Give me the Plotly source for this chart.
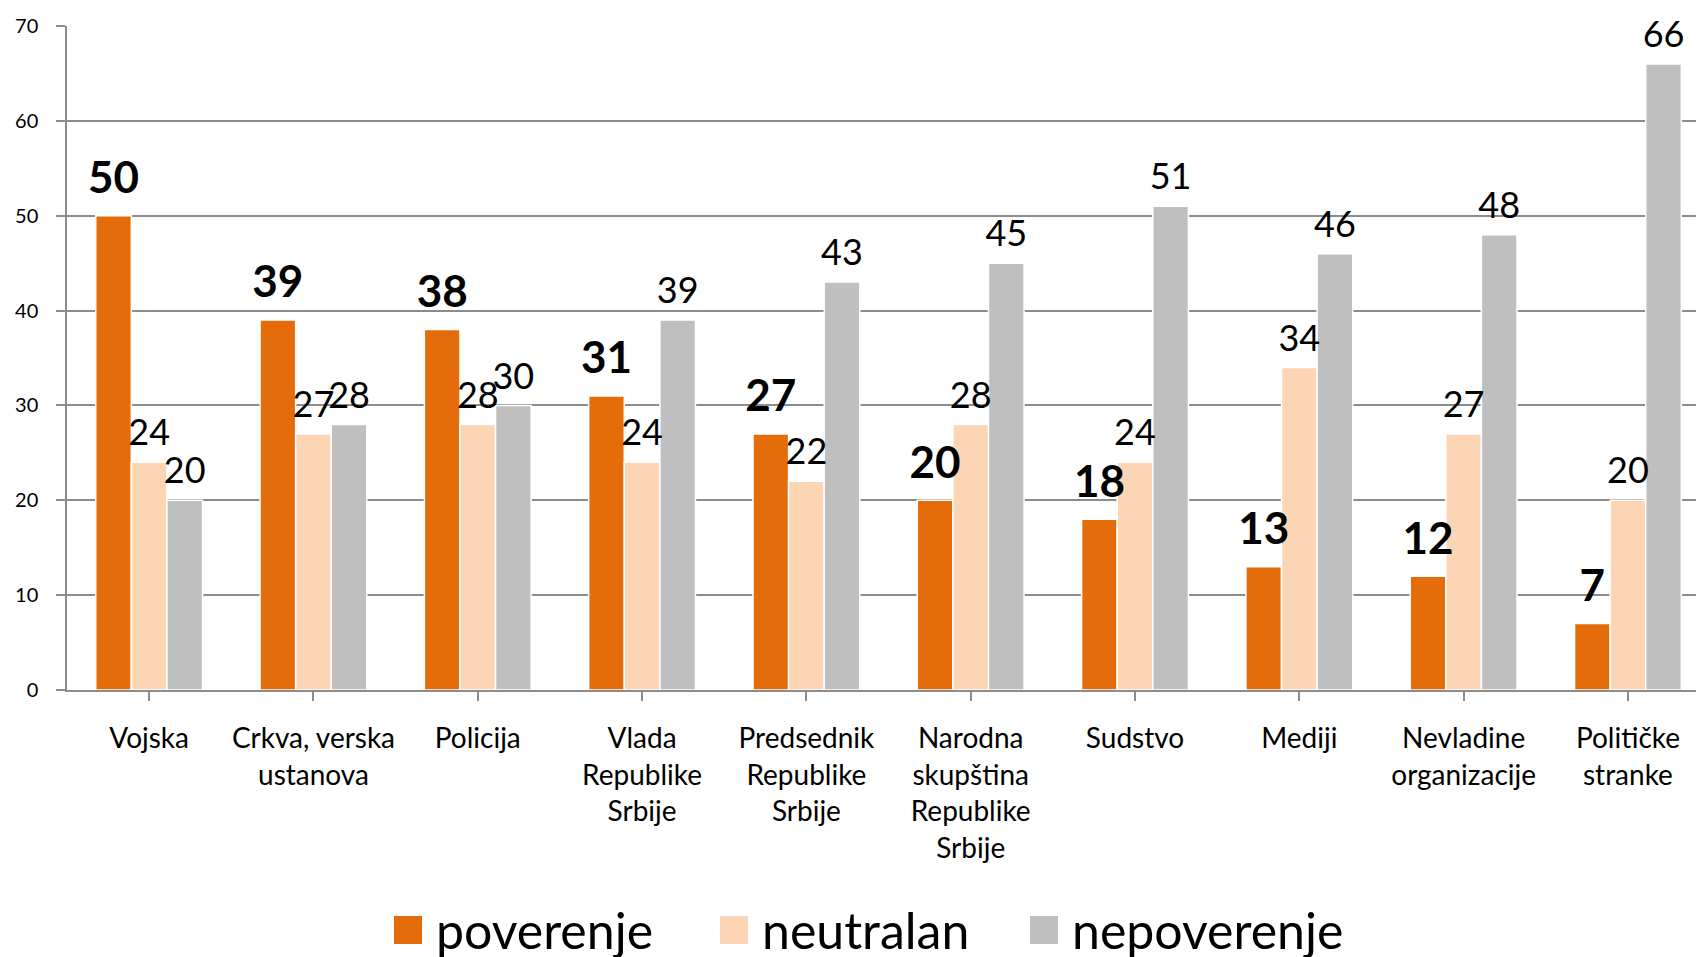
import plotly.graph_objects as go

categories = ["Vojska", "Crkva, verska<br>ustanova", "Policija", "Vlada<br>Republike<br>Srbije",
              "Predsednik<br>Republike<br>Srbije", "Narodna<br>skupština<br>Republike<br>Srbije",
              "Sudstvo", "Mediji", "Nevladine<br>organizacije", "Političke<br>stranke"]
series_names = ["poverenje", "neutralan", "nepoverenje"]
poverenje = [50, 39, 38, 31, 27, 20, 18, 13, 12, 7]
neutralan = [24, 27, 28, 24, 22, 28, 24, 34, 27, 20]
nepoverenje = [20, 28, 30, 39, 43, 45, 51, 46, 48, 66]
y_ticks = [0, 10, 20, 30, 40, 50, 60, 70]

colors = ["#E46C0A", "#FCD5B5", "#BFBFBF"]
FONT = "Lato"
xs = list(range(len(categories)))

fig = go.Figure()
for name, vals, col in zip(series_names, [poverenje, neutralan, nepoverenje], colors):
    fig.add_trace(go.Bar(
        x=xs, y=vals, name=name, offsetgroup=name,
        marker=dict(color=col, line=dict(color="white", width=1.5)),
        showlegend=False, hoverinfo="skip",
    ))
# value labels (grouped scatter so they sit over each bar)
for name, vals in zip(series_names, [poverenje, neutralan, nepoverenje]):
    bold = name == "poverenje"
    fig.add_trace(go.Scatter(
        x=xs, y=vals, mode="markers+text", offsetgroup=name, text=[str(v) for v in vals],
        textposition="top center", cliponaxis=False, showlegend=False, hoverinfo="skip",
        marker=dict(size=17 if bold else 11, opacity=0),
        textfont=dict(family=FONT, size=44 if bold else 36, color="black",
                      weight="bold" if bold else "normal"),
    ))

# legend drawn manually (large squares)
leg_x = [394, 720, 1030]
px_l, px_w, py_t, py_h = 67, 1637, 26, 664
shapes, annotations = [], []
for name, col, lx in zip(series_names, colors, leg_x):
    x0 = (lx - px_l) / px_w
    x1 = (lx + 28 - px_l) / px_w
    yc = (py_t + py_h - 930) / py_h
    hh = 14 / py_h
    shapes.append(dict(type="rect", xref="paper", yref="paper", x0=x0, x1=x1,
                       y0=yc - hh, y1=yc + hh, fillcolor=col, line=dict(width=0)))
    annotations.append(dict(text=name, xref="paper", yref="paper", x=(lx + 40 - px_l) / px_w,
                            y=yc, xanchor="left", yanchor="middle", showarrow=False,
                            font=dict(family=FONT, size=50, color="black")))

fig.update_layout(
    width=1696, height=949,
    margin=dict(l=59, r=0, t=18, b=267),
    paper_bgcolor="white", plot_bgcolor="white",
    barmode="group", bargap=0.35, bargroupgap=0,
    scattermode="group", scattergap=0.35,
    shapes=shapes, annotations=annotations,
    font=dict(family=FONT, color="black"),
    xaxis=dict(range=[-0.5, 9.463], tickmode="array", tickvals=xs,
               ticktext=categories, tickson="boundaries", ticks="outside", ticklen=9,
               tickcolor="#8c8c8c", tickwidth=1.5, showline=True, linecolor="#8c8c8c",
               linewidth=1.5, showgrid=False, tickfont=dict(family=FONT, size=28, color="black"),
               ticklabelstandoff=14),
    yaxis=dict(range=[0, 70], tickvals=y_ticks, showgrid=True, gridcolor="#8c8c8c", gridwidth=1.5,
               showline=True, linecolor="#8c8c8c", linewidth=1.5, ticks="outside", ticklen=9,
               tickcolor="#8c8c8c", tickwidth=1.5, zeroline=False,
               tickfont=dict(family=FONT, size=20, color="black"), ticklabelstandoff=14),
)

fig.write_html("out.html")
